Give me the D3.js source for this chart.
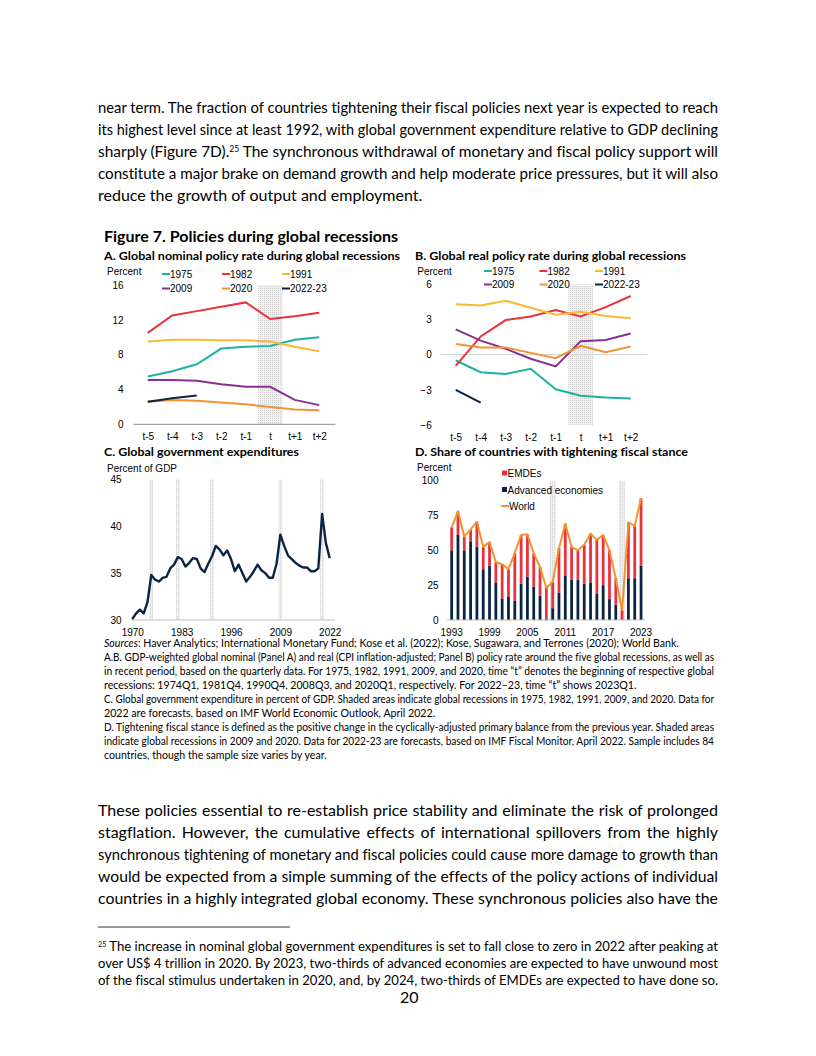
<!DOCTYPE html>
<html>
<head>
<meta charset="utf-8">
<script src="https://cdn.jsdelivr.net/npm/d3@7"></script>
<style>
  body { margin: 0; background: #fff; }
  text { font-variant-ligatures: none; }
</style>
</head>
<body>
<script>
const bodyFont = "Lato, 'Open Sans', sans-serif";
const chartFont = "'Liberation Sans', Arial, sans-serif";

// ---- data ----
const periods = ["t-5", "t-4", "t-3", "t-2", "t-1", "t", "t+1", "t+2"];
const recessionLabels = ["1975", "1982", "1991", "2009", "2020", "2022-23"];
const recessionColors = ["#1db3a3", "#e8323c", "#fbb832", "#8a2f92", "#f3922f", "#0c2444"];

// panel A: nominal policy rate, percent
const nominal1975 = [5.5, 6.1, 6.9, 8.7, 8.9, 9.0, 9.7, 10.0];
const nominal1982 = [10.5, 12.5, 13.0, 13.5, 14.0, 12.1, 12.4, 12.8];
const nominal1991 = [9.5, 9.7, 9.7, 9.65, 9.65, 9.5, 8.9, 8.4];
const nominal2009 = [5.1, 5.1, 5.0, 4.6, 4.3, 4.3, 2.8, 2.2];
const nominal2020 = [2.6, 2.8, 2.7, 2.5, 2.3, 2.0, 1.7, 1.6];
const nominal2022 = [2.6, 3.0, 3.3];

// panel B: real policy rate, percent
const real1975 = [-0.5, -1.5, -1.65, -1.2, -2.95, -3.5, -3.65, -3.75];
const real1982 = [-0.95, 1.55, 2.95, 3.25, 3.8, 3.25, 4.05, 5.0];
const real1991 = [4.3, 4.2, 4.6, 4.0, 3.4, 3.65, 3.3, 3.1];
const real2009 = [2.15, 1.2, 0.5, -0.35, -1.0, 1.15, 1.25, 1.8];
const real2020 = [0.9, 0.6, 0.6, 0.15, -0.3, 0.75, 0.2, 0.7];
const real2022 = [-3.0, -4.1];

// panel C: government expenditure, percent of GDP
const govYears = [1970, 1971, 1972, 1973, 1974, 1975, 1976, 1977, 1978, 1979,
  1980, 1981, 1982, 1983, 1984, 1985, 1986, 1987, 1988, 1989,
  1990, 1991, 1992, 1993, 1994, 1995, 1996, 1997, 1998, 1999,
  2000, 2001, 2002, 2003, 2004, 2005, 2006, 2007, 2008, 2009,
  2010, 2011, 2012, 2013, 2014, 2015, 2016, 2017, 2018, 2019,
  2020, 2021, 2022];
const govExp = [30.1, 30.7, 31.1, 30.7, 31.9, 34.8, 34.3, 34.1, 34.5, 34.6,
  35.5, 35.9, 36.7, 36.5, 35.7, 36.1, 36.6, 36.5, 35.5, 35.1,
  36.0, 36.8, 37.9, 37.5, 36.9, 37.4, 36.5, 35.2, 35.9, 35.0,
  34.1, 34.6, 35.2, 35.9, 35.3, 35.0, 34.5, 34.5, 36.0, 39.1,
  37.9, 36.9, 36.5, 36.1, 35.8, 35.6, 35.6, 35.2, 35.2, 35.5,
  41.3, 38.2, 36.6];
const govRecessions = [1975, 1982, 1991, 2009, 2020];
const govTicks = [1970, 1983, 1996, 2009, 2022];

// panel D: share of countries tightening, percent
const fiscalYears = [1993, 1994, 1995, 1996, 1997, 1998, 1999, 2000, 2001, 2002,
  2003, 2004, 2005, 2006, 2007, 2008, 2009, 2010, 2011, 2012,
  2013, 2014, 2015, 2016, 2017, 2018, 2019, 2020, 2021, 2022, 2023];
const advShare = [50, 61, 50, 56.5, 52.5, 36.5, 39, 27, 15.5, 16.5,
  14, 26, 31, 24, 17.5, 1, 8.5, 19.5, 32, 29,
  29, 26, 27, 19, 25, 15, 11, 0, 30, 30, 39];
const emdeShare = [16.5, 17, 10, 8.5, 18, 16, 17, 14.5, 24.5, 20,
  34, 35, 30.5, 24, 20.5, 22, 19, 32, 37, 23.5,
  21, 28, 35, 38.5, 36, 35, 19, 7, 40, 37.5, 48.5];
const worldShare = [66.5, 78, 60, 65, 70.5, 52.5, 56, 41.5, 40, 36.5,
  48, 61, 61.5, 48, 38, 23, 27.5, 51.5, 69, 52.5,
  50, 54, 62, 57.5, 61, 50, 30, 7, 70, 67.5, 87.5];
const fiscalRecessions = [2009, 2020];
const fiscalTicks = [1993, 1999, 2005, 2011, 2017, 2023];

// ---- text ----
const para1 = [
  "near term. The fraction of countries tightening their fiscal policies next year is expected to reach",
  "its highest level since at least 1992, with global government expenditure relative to GDP declining",
  "sharply (Figure 7D).^25^ The synchronous withdrawal of monetary and fiscal policy support will",
  "constitute a major brake on demand growth and help moderate price pressures, but it will also",
  "reduce the growth of output and employment."
];
const notes = [
  "*Sources*: Haver Analytics; International Monetary Fund; Kose et al. (2022); Kose, Sugawara, and Terrones (2020); World Bank.",
  "A.B. GDP-weighted global nominal (Panel A) and real (CPI inflation-adjusted; Panel B) policy rate around the five global recessions, as well as",
  "in recent period, based on the quarterly data. For 1975, 1982, 1991, 2009, and 2020, time “t” denotes the beginning of respective global",
  "recessions: 1974Q1, 1981Q4, 1990Q4, 2008Q3, and 2020Q1, respectively. For 2022–23, time “t” shows 2023Q1.",
  "C. Global government expenditure in percent of GDP. Shaded areas indicate global recessions in 1975, 1982, 1991, 2009, and 2020. Data for",
  "2022 are forecasts, based on IMF World Economic Outlook, April 2022.",
  "D. Tightening fiscal stance is defined as the positive change in the cyclically-adjusted primary balance from the previous year. Shaded areas",
  "indicate global recessions in 2009 and 2020. Data for 2022-23 are forecasts, based on IMF Fiscal Monitor, April 2022. Sample includes 84",
  "countries, though the sample size varies by year."
];
const notesJustified = [false, true, true, false, true, false, true, true, false];
const para2 = [
  "These policies essential to re-establish price stability and eliminate the risk of prolonged",
  "stagflation. However, the cumulative effects of international spillovers from the highly",
  "synchronous tightening of monetary and fiscal policies could cause more damage to growth than",
  "would be expected from a simple summing of the effects of the policy actions of individual",
  "countries in a highly integrated global economy. These synchronous policies also have the"
];
const footnote = [
  "^25^ The increase in nominal global government expenditures is set to fall close to zero in 2022 after peaking at",
  "over US$ 4 trillion in 2020. By 2023, two-thirds of advanced economies are expected to have unwound most",
  "of the fiscal stimulus undertaken in 2020, and, by 2024, two-thirds of EMDEs are expected to have done so."
];

const page = d3.select("body").append("svg")
  .attr("width", 816)
  .attr("height", 1056);

// dotted shading used for recession periods
const pat = page.append("defs").append("pattern")
  .attr("id", "dots")
  .attr("width", 2)
  .attr("height", 2)
  .attr("patternUnits", "userSpaceOnUse");
pat.append("rect").attr("width", 2).attr("height", 2).attr("fill", "#f0f0f0");
pat.append("rect").attr("width", 1).attr("height", 1).attr("fill", "#d2d2d2");

// writes one line of text; ^..^ is superscript, *..* is italic
function addLine(str, x, y, size, opts = {}) {
  const t = page.append("text")
    .attr("x", x)
    .attr("y", y)
    .attr("font-family", opts.family || bodyFont)
    .attr("font-size", size)
    .attr("font-weight", opts.weight || "normal")
    .attr("fill", "#000");
  let pendingDy = 0;
  str.split(/(\^[^^]*\^|\*[^*]*\*)/).filter((s) => s.length).forEach((s) => {
    const span = t.append("tspan");
    if (s[0] === "^") {
      span.attr("font-size", size * 0.55).attr("dy", -size * 0.32).text(s.slice(1, -1));
      pendingDy = size * 0.32;
      return;
    }
    if (s[0] === "*") {
      span.attr("font-style", "italic").text(s.slice(1, -1));
    } else {
      span.text(s);
    }
    if (pendingDy) {
      span.attr("dy", pendingDy);
      pendingDy = 0;
    }
  });
  if (opts.width) {
    const w = t.node().getComputedTextLength();
    const spaces = (str.match(/ /g) || []).length;
    if (opts.justify && w < opts.width && spaces) {
      t.attr("word-spacing", (opts.width - w) / spaces);
    } else if (w > opts.width || opts.fit) {
      t.attr("textLength", opts.width).attr("lengthAdjust", "spacingAndGlyphs");
    }
  }
  return t;
}

// body text
para1.forEach((line, i) => {
  addLine(line, 98, 113 + i * 22, 16, { width: 620, justify: i < para1.length - 1 });
});

para2.forEach((line, i) => {
  addLine(line, 98, 816 + i * 22, 16, { width: 620, justify: true });
});

notes.forEach((line, i) => {
  addLine(line, 104, 646.5 + i * 14, 10.6, { width: 610, justify: notesJustified[i] });
});

page.append("line")
  .attr("x1", 98).attr("x2", 290)
  .attr("y1", 927).attr("y2", 927)
  .attr("stroke", "#000").attr("stroke-width", 0.8);

footnote.forEach((line, i) => {
  addLine(line, 98, 951 + i * 17, 13.3, { width: 620, justify: i < 2 });
});

addLine("20", 400, 1003, 16);

// titles
addLine("Figure 7. Policies during global recessions", 104, 242, 15, { weight: "bold", width: 294, fit: true });
addLine("A. Global nominal policy rate during global recessions", 104, 260, 11.5, { weight: "bold", width: 296, fit: true });
addLine("B. Global real policy rate during global recessions", 415, 260, 11.5, { weight: "bold", width: 271, fit: true });
addLine("C. Global government expenditures", 104, 456, 11.5, { weight: "bold", width: 195, fit: true });
addLine("D. Share of countries with tightening fiscal stance", 415, 456, 11.5, { weight: "bold", width: 273, fit: true });

function styleAxis(a) {
  a.selectAll("text")
    .attr("font-family", chartFont)
    .attr("font-size", 10)
    .attr("fill", "#000");
}

function chartLabel(str, x, y) {
  page.append("text")
    .attr("x", x)
    .attr("y", y)
    .attr("dy", "0.35em")
    .attr("font-family", chartFont)
    .attr("font-size", 10)
    .text(str);
}

// panels A and B
function ratePanel(cfg) {
  const x = d3.scalePoint().domain(periods).range(cfg.xRange).padding(0.5);
  const y = d3.scaleLinear().domain(cfg.yDomain).range(cfg.yRange);
  const g = page.append("g");

  g.append("rect")
    .attr("x", x("t") - x.step() / 2)
    .attr("width", x.step())
    .attr("y", y(cfg.yDomain[1]))
    .attr("height", y(cfg.yDomain[0]) - y(cfg.yDomain[1]))
    .attr("fill", "url(#dots)");

  g.append("line")
    .attr("x1", cfg.xRange[0] - 2)
    .attr("x2", cfg.xRange[1] + 4)
    .attr("y1", y(0))
    .attr("y2", y(0))
    .attr("stroke", cfg.zeroColor)
    .attr("stroke-width", 1);

  g.append("g")
    .attr("transform", `translate(${cfg.yLabelX},0)`)
    .call(d3.axisLeft(y).tickValues(cfg.yTicks).tickSize(0).tickPadding(0))
    .call((a) => a.select(".domain").remove())
    .call(styleAxis);

  g.append("g")
    .attr("transform", `translate(0,${y(cfg.yDomain[0])})`)
    .call(d3.axisBottom(x).tickSize(0).tickPadding(cfg.xPad))
    .call((a) => a.select(".domain").remove())
    .call(styleAxis);

  const line = d3.line()
    .x((d, i) => x(periods[i]))
    .y((d) => y(d));

  cfg.series.forEach((s, i) => {
    g.append("path")
      .datum(s)
      .attr("fill", "none")
      .attr("stroke", recessionColors[i])
      .attr("stroke-width", 2)
      .attr("d", line);
  });

  // legend
  chartLabel("Percent", cfg.percentX, cfg.percentY);
  recessionLabels.forEach((lab, i) => {
    const lx = cfg.legendX[i % 3];
    const ly = cfg.legendY[Math.floor(i / 3)];
    g.append("line")
      .attr("x1", lx).attr("x2", lx + 8)
      .attr("y1", ly).attr("y2", ly)
      .attr("stroke", recessionColors[i])
      .attr("stroke-width", 2);
    chartLabel(lab, lx + 8, ly);
  });
}

ratePanel({
  xRange: [135.5, 331.5],
  yDomain: [0, 16],
  yRange: [424.3, 285],
  yTicks: [0, 4, 8, 12, 16],
  yLabelX: 123.5,
  xPad: 9,
  zeroColor: "#8c8c8c",
  series: [nominal1975, nominal1982, nominal1991, nominal2009, nominal2020, nominal2022],
  percentX: 107,
  percentY: 271.5,
  legendX: [162, 222, 282],
  legendY: [274, 288.5]
});

ratePanel({
  xRange: [443.2, 643.2],
  yDomain: [-6, 6],
  yRange: [425, 284.3],
  yTicks: [-6, -3, 0, 3, 6],
  yLabelX: 431.7,
  xPad: 8.5,
  zeroColor: "#d0d0d0",
  series: [real1975, real1982, real1991, real2009, real2020, real2022],
  percentX: 417.3,
  percentY: 271,
  legendX: [484, 539.5, 595],
  legendY: [271, 284.5]
});

// panel C
{
  const x = d3.scaleLinear().domain([1970, 2022]).range([132.3, 329.7]);
  const y = d3.scaleLinear().domain([30, 45]).range([620, 479.3]);
  const g = page.append("g");
  const w = x(1971) - x(1970);

  g.selectAll(".shade")
    .data(govRecessions)
    .join("rect")
    .attr("x", (d) => x(d) - w / 2)
    .attr("width", w)
    .attr("y", y(45))
    .attr("height", y(30) - y(45))
    .attr("fill", "url(#dots)");

  g.append("line")
    .attr("x1", 131).attr("x2", 335)
    .attr("y1", y(30)).attr("y2", y(30))
    .attr("stroke", "#bfbfbf");

  g.append("g")
    .attr("transform", "translate(121.5,0)")
    .call(d3.axisLeft(y).tickValues([30, 35, 40, 45]).tickSize(0).tickPadding(0))
    .call((a) => a.select(".domain").remove())
    .call(styleAxis);

  g.append("g")
    .attr("transform", `translate(0,${y(30)})`)
    .call(d3.axisBottom(x).tickValues(govTicks).tickFormat(d3.format("d")).tickSize(0).tickPadding(9))
    .call((a) => a.select(".domain").remove())
    .call(styleAxis);

  g.append("path")
    .datum(govExp)
    .attr("fill", "none")
    .attr("stroke", "#0c2444")
    .attr("stroke-width", 2.4)
    .attr("stroke-linejoin", "round")
    .attr("d", d3.line().x((d, i) => x(govYears[i])).y((d) => y(d)));

  chartLabel("Percent of GDP", 107, 468);
}

// panel D
{
  const x = d3.scaleBand()
    .domain(fiscalYears)
    .range([448.5, 644.2])
    .paddingInner(0.56)
    .paddingOuter(0.28);
  const y = d3.scaleLinear().domain([0, 100]).range([620, 480.7]);
  const g = page.append("g");

  g.selectAll(".shade")
    .data(fiscalRecessions)
    .join("rect")
    .attr("x", (d) => x(d) + x.bandwidth() / 2 - x.step() / 2)
    .attr("width", x.step())
    .attr("y", y(100))
    .attr("height", y(0) - y(100))
    .attr("fill", "url(#dots)");

  const rows = fiscalYears.map((yr, i) => ({ year: yr, adv: advShare[i], emde: emdeShare[i] }));
  const stacked = d3.stack().keys(["adv", "emde"])(rows);
  const barColors = { adv: "#0c2444", emde: "#e8323c" };

  stacked.forEach((layer) => {
    g.selectAll(null)
      .data(layer)
      .join("rect")
      .attr("x", (d) => x(d.data.year))
      .attr("width", x.bandwidth())
      .attr("y", (d) => y(d[1]))
      .attr("height", (d) => y(d[0]) - y(d[1]))
      .attr("fill", barColors[layer.key]);
  });

  g.append("line")
    .attr("x1", 447).attr("x2", 645)
    .attr("y1", y(0)).attr("y2", y(0))
    .attr("stroke", "#bfbfbf");

  g.append("path")
    .datum(worldShare)
    .attr("fill", "none")
    .attr("stroke", "#f3922f")
    .attr("stroke-width", 2)
    .attr("stroke-linejoin", "round")
    .attr("d", d3.line().x((d, i) => x(fiscalYears[i]) + x.bandwidth() / 2).y((d) => y(d)));

  g.append("g")
    .attr("transform", "translate(438.5,0)")
    .call(d3.axisLeft(y).tickValues([0, 25, 50, 75, 100]).tickSize(0).tickPadding(0))
    .call((a) => a.select(".domain").remove())
    .call(styleAxis);

  g.append("g")
    .attr("transform", `translate(0,${y(0)})`)
    .call(d3.axisBottom(x).tickValues(fiscalTicks).tickSize(0).tickPadding(9))
    .call((a) => a.select(".domain").remove())
    .call(styleAxis);

  chartLabel("Percent", 417, 467);

  // legend
  g.append("rect").attr("x", 502).attr("y", 470.5).attr("width", 5).attr("height", 5).attr("fill", "#e8323c");
  chartLabel("EMDEs", 507.5, 473.5);
  g.append("rect").attr("x", 502).attr("y", 487).attr("width", 5).attr("height", 5).attr("fill", "#0c2444");
  chartLabel("Advanced economies", 507.5, 490);
  g.append("line").attr("x1", 501).attr("x2", 509).attr("y1", 506).attr("y2", 506)
    .attr("stroke", "#f3922f").attr("stroke-width", 2);
  chartLabel("World", 509, 506);
}
</script>
</body>
</html>
